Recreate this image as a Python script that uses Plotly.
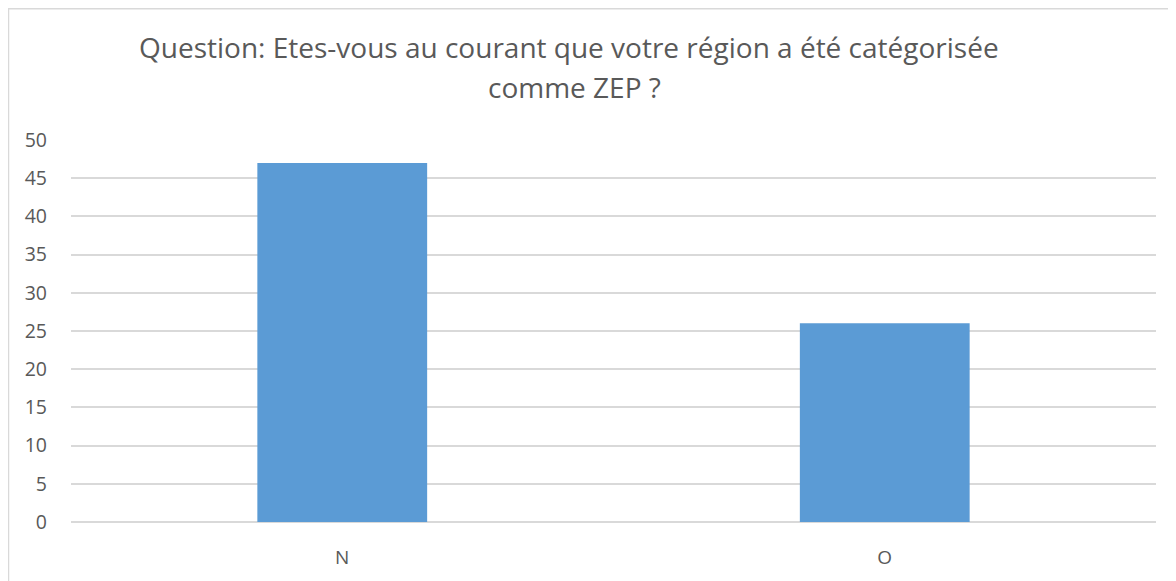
import plotly.graph_objects as go

categories = ["N", "O"]
values = [47, 26]
y_ticks = [0, 5, 10, 15, 20, 25, 30, 35, 40, 45, 50]
title_lines = ["Question: Etes-vous au courant que votre région a été catégorisée", "comme ZEP ?"]

# page body has 8px default margin; compensate
L, R, T, B = 63, 28, 132, 66.5
PH = 581 - T - B
PW = 1176 - L - R

fig = go.Figure()
fig.add_trace(go.Bar(
    x=categories, y=values,
    marker=dict(color="#5B9BD5", line=dict(width=0)),
    width=0.313,
))

title_pos = [(569, 47), (574, 87)]  # page coords of line centres
annotations = []
for txt, (px, py) in zip(title_lines, title_pos):
    annotations.append(dict(text=txt, xref="paper", yref="paper",
                            x=(px - 8 - L) / PW, y=1 + (T - (py - 8)) / PH,
                            xanchor="center", yanchor="middle",
                            showarrow=False, align="center",
                            font=dict(family="Open Sans", size=28, color="#595959")))

fig.update_layout(
    width=1176, height=581,
    margin=dict(l=L, r=R, t=T, b=B),
    paper_bgcolor="white", plot_bgcolor="white",
    showlegend=False,
    font=dict(family="Open Sans", color="#595959", size=20),
    shapes=[dict(type="rect", xref="paper", yref="paper",
                 x0=-(L - 0.5) / PW, x1=1.2, y0=-0.5, y1=1 + (T - 0.5) / PH,
                 line=dict(color="#D9D9D9", width=1.5), fillcolor="rgba(0,0,0,0)", layer="below")],
    annotations=annotations,
)
fig.update_xaxes(showgrid=False, showline=False, ticks="", tickfont=dict(size=19, color="#595959"),
                 ticklabelstandoff=22)
fig.update_yaxes(range=[0, 50], tickvals=y_ticks, showgrid=True, gridcolor="#D9D9D9", gridwidth=1.5,
                 zeroline=True, zerolinecolor="#D9D9D9", zerolinewidth=1.5,
                 showline=False, ticks="", tickfont=dict(size=19.5, color="#595959"),
                 ticklabelstandoff=23)

fig.write_html("out.html")
